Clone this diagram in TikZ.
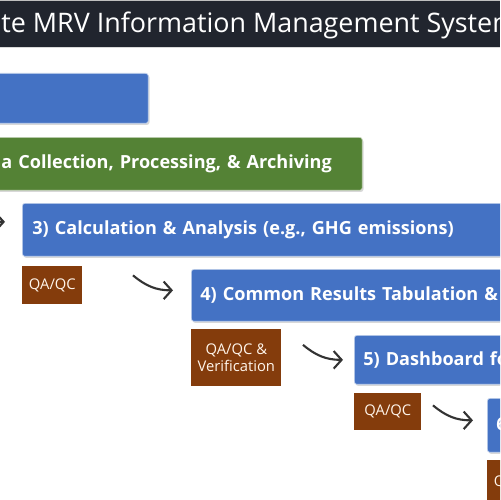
\documentclass[tikz,border=0pt]{standalone}
\usepackage{fontspec}
\setmainfont{Open Sans}
\usetikzlibrary{positioning,calc,shadows,arrows.meta}

\definecolor{stepblue}{HTML}{4472C4}
\definecolor{stepgreen}{HTML}{548235}
\definecolor{qabrown}{HTML}{843C0C}
\definecolor{titlebar}{HTML}{21252E}

\tikzset{
  stepbox/.style={rectangle,rounded corners=1.5pt,fill=stepblue,draw=white!70!stepblue,
    anchor=north west,text=white,align=left,inner xsep=0.18cm,inner ysep=0pt,
    font=\bfseries\fontsize{10.3}{12}\selectfont,
    drop shadow={shadow xshift=.7pt,shadow yshift=-.9pt,opacity=.3}},
  qabox/.style={rectangle,fill=qabrown,text=white!92!orange,align=center,inner sep=1pt,
    font=\fontsize{8.4}{10}\selectfont},
  hook/.style={-{Straight Barb[length=4.5pt,width=10pt]},line width=1.2pt,draw=black!80}
}

\begin{document}
\begin{tikzpicture}[x=0.02cm,y=-0.02cm]
  \useasboundingbox (0,0) rectangle (500,500);
  \clip (0,0) rectangle (500,500);
  \fill[white] (0,0) rectangle (500,500);

  % title bar
  \fill[titlebar] (0,1) rectangle (500,47);
  \draw[black!25,line width=.6pt] (0,.5) -- (500,.5);
  \draw[black!15,line width=.6pt] (0,47.5) -- (500,47.5);
  \node[anchor=base west,text=white,inner sep=0,font=\fontsize{15.3}{18}\selectfont]
    (title) at (1,33) {te MRV Information Management System};

  % steps
  \node[stepbox,minimum width=3.16cm,minimum height=1cm] (box1) at (-10,73) {};
  \node[stepbox,fill=stepgreen,draw=white!70!stepgreen,inner xsep=0.22cm,
    text width=7cm,minimum height=1.06cm] (box2) at (-10,137)
    {a Collection, Processing, \& Archiving};
  \node[stepbox,inner xsep=0.2cm,text width=9.36cm,minimum height=1.06cm] (box3) at (22,203)
    {3) Calculation \& Analysis (e.g., GHG emissions)};
  \node[stepbox,text width=6.4cm,minimum height=1.04cm] (box4) at (191,269)
    {4) Common Results Tabulation \&};
  \node[stepbox,text width=4cm,minimum height=.98cm] (box5) at (354,335)
    {5) Dashboard for};
  \node[stepbox,text width=1cm,minimum height=1.08cm] (box6) at (487,398)
    {6)};

  % QA/QC checks
  \node[qabox,below=0.18cm of box3.south west,anchor=north west,
    minimum width=1.2cm,minimum height=.76cm] (qa1) {QA/QC};
  \node[qabox,below=0.14cm of box4.south west,anchor=north west,
    minimum width=1.8cm,minimum height=1.14cm] (qa2) {QA/QC \&\\Verification};
  \node[qabox,below=0.16cm of box5.south west,anchor=north west,
    minimum width=1.34cm,minimum height=.74cm] (qa3) {QA/QC};
  \node[qabox,below=0.14cm of box6.south west,anchor=north west,
    minimum width=1.2cm,minimum height=.9cm] (qa4) {QA/QC};

  % hooked arrows into each step
  \coordinate (in3) at ($(box3.west)+(-17,-8)$);
  \coordinate (in4) at ($(box4.west)+(-18,-5)$);
  \coordinate (in5) at ($(box5.west)+(-11,0)$);
  \coordinate (in6) at ($(box6.west)+(-14,-5)$);
  \foreach \s in {3,4,5,6}
    \draw[hook] ($(in\s)+(-40,-15)$) to[out=-40,in=180] (in\s);
\end{tikzpicture}
\end{document}
